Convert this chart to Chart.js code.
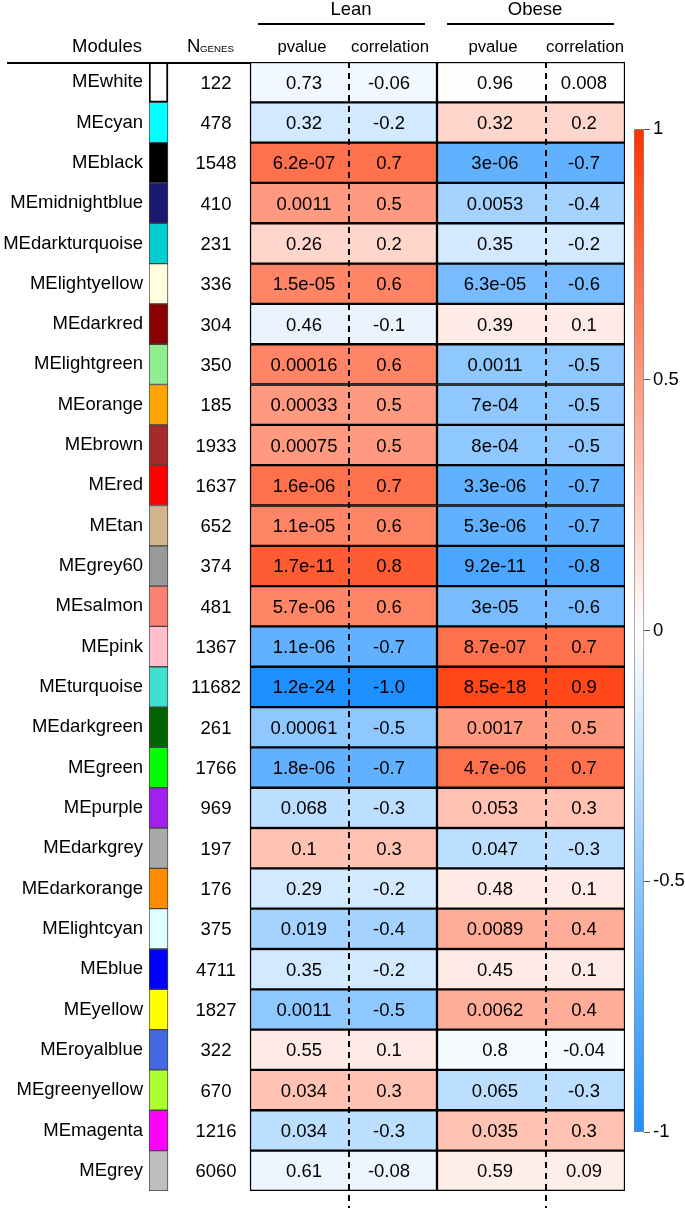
<!DOCTYPE html>
<html>
<head>
<meta charset="utf-8">
<script src="https://cdn.jsdelivr.net/npm/chart.js@4.4.1/dist/chart.umd.min.js"></script>
<style>
  html, body { margin: 0; padding: 0; background: #fff; }
  #wrap { position: relative; width: 685px; height: 1208px; }
  canvas { position: absolute; left: 0; top: 0; }
</style>
</head>
<body>
<div id="wrap">
  <canvas id="table" width="685" height="1208"></canvas>
  <canvas id="scale" width="685" height="1208"></canvas>
</div>
<script>
const modules = ['MEwhite', 'MEcyan', 'MEblack', 'MEmidnightblue', 'MEdarkturquoise', 'MElightyellow',
  'MEdarkred', 'MElightgreen', 'MEorange', 'MEbrown', 'MEred', 'MEtan', 'MEgrey60', 'MEsalmon', 'MEpink',
  'MEturquoise', 'MEdarkgreen', 'MEgreen', 'MEpurple', 'MEdarkgrey', 'MEdarkorange', 'MElightcyan',
  'MEblue', 'MEyellow', 'MEroyalblue', 'MEgreenyellow', 'MEmagenta', 'MEgrey'];
const moduleColors = ['#FFFFFF', '#00FFFF', '#000000', '#191970', '#00CED1', '#FFFFE0',
  '#8B0000', '#90EE90', '#FFA500', '#A52A2A', '#FF0000', '#D2B48C', '#999999', '#FA8072', '#FFC0CB',
  '#40E0D0', '#006400', '#00FF00', '#A020F0', '#A9A9A9', '#FF8C00', '#E0FFFF',
  '#0000FF', '#FFFF00', '#4169E1', '#ADFF2F', '#FF00FF', '#BEBEBE'];
const nGenes = [122, 478, 1548, 410, 231, 336, 304, 350, 185, 1933, 1637, 652, 374, 481, 1367,
  11682, 261, 1766, 969, 197, 176, 375, 4711, 1827, 322, 670, 1216, 6060];
const leanP = ['0.73', '0.32', '6.2e-07', '0.0011', '0.26', '1.5e-05', '0.46', '0.00016', '0.00033',
  '0.00075', '1.6e-06', '1.1e-05', '1.7e-11', '5.7e-06', '1.1e-06', '1.2e-24', '0.00061', '1.8e-06',
  '0.068', '0.1', '0.29', '0.019', '0.35', '0.0011', '0.55', '0.034', '0.034', '0.61'];
const leanR = [-0.06, -0.2, 0.7, 0.5, 0.2, 0.6, -0.1, 0.6, 0.5, 0.5, 0.7, 0.6, 0.8, 0.6, -0.7,
  -1.0, -0.5, -0.7, -0.3, 0.3, -0.2, -0.4, -0.2, -0.5, 0.1, 0.3, -0.3, -0.08];
const obeseP = ['0.96', '0.32', '3e-06', '0.0053', '0.35', '6.3e-05', '0.39', '0.0011', '7e-04',
  '8e-04', '3.3e-06', '5.3e-06', '9.2e-11', '3e-05', '8.7e-07', '8.5e-18', '0.0017', '4.7e-06',
  '0.053', '0.047', '0.48', '0.0089', '0.45', '0.0062', '0.8', '0.065', '0.035', '0.59'];
const obeseR = [0.008, 0.2, -0.7, -0.4, -0.2, -0.6, 0.1, -0.5, -0.5, -0.5, -0.7, -0.7, -0.8, -0.6, 0.7,
  0.9, 0.5, 0.7, 0.3, -0.3, 0.1, 0.4, 0.1, 0.4, -0.04, -0.3, 0.3, 0.09];
const colorbarTicks = [-1, -0.5, 0, 0.5, 1];

const FONT = '"Liberation Sans", Arial, Helvetica, sans-serif';
const POS = [255, 51, 0];     // +1
const NEG = [30, 144, 255];   // -1

// column layout, in x-scale units (chart area is 0..476)
const cols = {
  swatch: [0, 19],
  genes: 67,
  lean: { box: [101, 288], split: 200, p: 155, r: 240, title: 202, line: [109, 276] },
  obese: { box: [288, 476], split: 397, p: 346, r: 435, title: 386, line: [298, 465] }
};

function corrColor(v) {
  const t = Math.min(1, Math.abs(v));
  const end = v >= 0 ? POS : NEG;
  const c = end.map(e => Math.round(255 + (e - 255) * t));
  return `rgb(${c[0]},${c[1]},${c[2]})`;
}

function fmtR(v) {
  return v === -1 ? '-1.0' : String(v);
}

const tablePlugin = {
  id: 'tableText',
  afterDatasetsDraw(chart) {
    const { ctx, chartArea, scales: { x, y } } = chart;
    ctx.save();

    // dashed split between pvalue and correlation
    ctx.strokeStyle = '#000';
    ctx.lineWidth = 2;
    ctx.setLineDash([6, 5]);
    [cols.lean.split, cols.obese.split].forEach(v => {
      const px = Math.round(x.getPixelForValue(v));
      ctx.beginPath();
      ctx.moveTo(px, chartArea.top);
      ctx.lineTo(px, chart.height);
      ctx.stroke();
    });
    ctx.setLineDash([]);

    // cell texts
    ctx.fillStyle = '#000';
    ctx.textAlign = 'center';
    ctx.textBaseline = 'alphabetic';
    ctx.font = `18.5px ${FONT}`;
    modules.forEach((m, i) => {
      const by = y.getPixelForValue(i) + 6.5;
      ctx.fillText(String(nGenes[i]), x.getPixelForValue(cols.genes), by);
      ctx.fillText(leanP[i], x.getPixelForValue(cols.lean.p), by);
      ctx.fillText(fmtR(leanR[i]), x.getPixelForValue(cols.lean.r), by);
      ctx.fillText(obeseP[i], x.getPixelForValue(cols.obese.p), by);
      ctx.fillText(fmtR(obeseR[i]), x.getPixelForValue(cols.obese.r), by);
    });

    // group headers
    [['Lean', cols.lean], ['Obese', cols.obese]].forEach(([name, c]) => {
      ctx.font = `18.5px ${FONT}`;
      ctx.fillText(name, x.getPixelForValue(c.title), 15);
      ctx.beginPath();
      ctx.moveTo(x.getPixelForValue(c.line[0]), 24);
      ctx.lineTo(x.getPixelForValue(c.line[1]), 24);
      ctx.stroke();
      ctx.font = `16.7px ${FONT}`;
      ctx.fillText('pvalue', x.getPixelForValue(c.p - 2), 52);
      ctx.fillText('correlation', x.getPixelForValue(c.r + 1), 52);
    });

    ctx.font = `18.5px ${FONT}`;
    ctx.fillText('Modules', 107, 52);
    ctx.textAlign = 'left';
    ctx.fillText('N', 187, 52);
    ctx.font = `9.7px ${FONT}`;
    ctx.fillText('GENES', 200, 52);

    ctx.beginPath();
    ctx.moveTo(7, 63);
    ctx.lineTo(chartArea.left + 101, 63);
    ctx.stroke();
    ctx.restore();
  }
};

new Chart(document.getElementById('table'), {
  type: 'bar',
  data: {
    labels: modules,
    datasets: [
      {
        label: 'module',
        data: modules.map(() => cols.swatch),
        backgroundColor: moduleColors,
        borderColor: moduleColors.map(c => c === '#FFFFFF' ? '#000' : '#444'),
        borderWidth: moduleColors.map(c => c === '#FFFFFF' ? 2 : 1)
      },
      {
        label: 'Lean',
        data: modules.map(() => cols.lean.box),
        backgroundColor: leanR.map(corrColor),
        borderColor: '#000',
        borderWidth: 1.5
      },
      {
        label: 'Obese',
        data: modules.map(() => cols.obese.box),
        backgroundColor: obeseR.map(corrColor),
        borderColor: '#000',
        borderWidth: 1.5
      }
    ]
  },
  options: {
    indexAxis: 'y',
    responsive: false,
    animation: false,
    devicePixelRatio: 1,
    layout: { padding: { top: 62, right: 60, bottom: 4, left: 0 } },
    datasets: {
      bar: { grouped: false, barPercentage: 1, categoryPercentage: 1, borderSkipped: false }
    },
    plugins: { legend: { display: false }, tooltip: { enabled: false } },
    scales: {
      x: { type: 'linear', min: 0, max: 476, display: false },
      y: {
        type: 'category',
        afterFit: s => { s.width = 149; },
        grid: { display: false, drawTicks: false },
        border: { display: false },
        ticks: { color: '#000', font: { size: 18.5, family: FONT }, padding: 6 }
      }
    }
  },
  plugins: [tablePlugin]
});

// colour key
new Chart(document.getElementById('scale'), {
  type: 'bar',
  data: {
    labels: [''],
    datasets: [{
      data: [[-1, 1]],
      backgroundColor: c => {
        const a = c.chart.chartArea;
        if (!a) return null;
        const g = c.chart.ctx.createLinearGradient(0, a.bottom, 0, a.top);
        g.addColorStop(0, corrColor(-1));
        g.addColorStop(0.5, '#FFFFFF');
        g.addColorStop(1, corrColor(1));
        return g;
      },
      borderColor: '#888',
      borderWidth: 1,
      borderSkipped: false,
      barPercentage: 1,
      categoryPercentage: 1
    }]
  },
  options: {
    responsive: false,
    animation: false,
    devicePixelRatio: 1,
    layout: { padding: { left: 634, top: 129, bottom: 76, right: 0 } },
    plugins: { legend: { display: false }, tooltip: { enabled: false } },
    scales: {
      x: { display: false },
      y: {
        position: 'right',
        min: -1,
        max: 1,
        afterFit: s => { s.width = 41; },
        afterBuildTicks: s => { s.ticks = colorbarTicks.map(v => ({ value: v })); },
        grid: { drawOnChartArea: false, tickLength: 6, color: '#555', lineWidth: 1 },
        border: { display: false },
        ticks: { padding: 3, color: '#000', font: { size: 18.5, family: FONT }, callback: v => String(v) }
      }
    }
  }
});
</script>
</body>
</html>
